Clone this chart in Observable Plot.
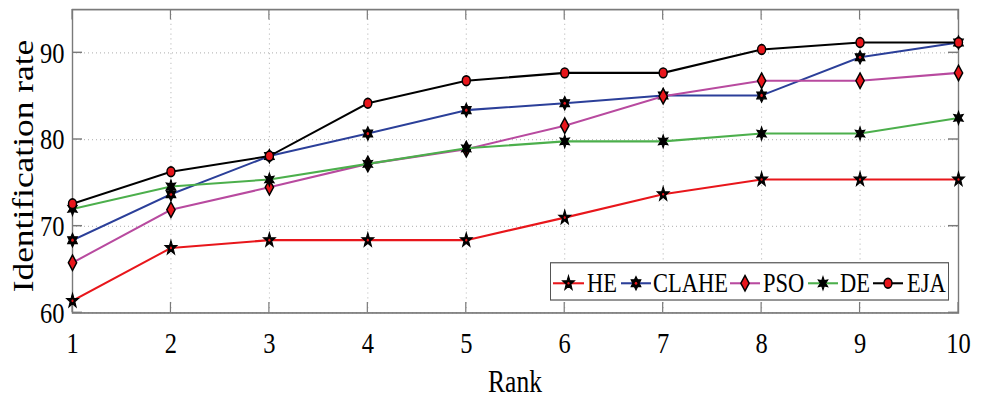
<!DOCTYPE html>
<html><head><meta charset="utf-8">
<script src="https://cdn.jsdelivr.net/npm/d3@7"></script>
<script src="https://cdn.jsdelivr.net/npm/@observablehq/plot@0.6"></script>
<style>html,body{margin:0;padding:0;background:#fff;} #chart svg{display:block}</style>
</head><body><div id="chart"></div>
<script>
// ---- data ----
const ranks = [1, 2, 3, 4, 5, 6, 7, 8, 9, 10];
const heValues    = [61.4, 67.5, 68.4, 68.4, 68.4, 71.0, 73.7, 75.4, 75.4, 75.4];
const claheValues = [68.4, 73.7, 78.1, 80.7, 83.4, 84.2, 85.1, 85.1, 89.5, 91.2];
const psoValues   = [65.8, 71.9, 74.5, 77.2, 78.9, 81.6, 85.0, 86.8, 86.8, 87.7];
const deValues    = [72.0, 74.6, 75.4, 77.2, 79.0, 79.8, 79.8, 80.7, 80.7, 82.5];
const ejaValues   = [72.6, 76.3, 78.1, 84.2, 86.8, 87.7, 87.7, 90.4, 91.2, 91.2];
const seriesNames = ["HE", "CLAHE", "PSO", "DE", "EJA"];
const yTicks = [60, 70, 80, 90];
const xLabel = "Rank";
const yLabel = "Identification rate";

const allValues = [heValues, claheValues, psoValues, deValues, ejaValues];
const table = seriesNames.flatMap((name, k) =>
  allValues[k].map((v, i) => ({rank: ranks[i], value: v, series: name})));

// ---- symbols ----
const sym = (fn) => ({draw(ctx, size) { fn(ctx, Math.sqrt(size / Math.PI)); }});
const star = (n, ratio) => sym((ctx, R) => {
  for (let i = 0; i < 2 * n; i++) {
    const a = -Math.PI / 2 + i * Math.PI / n;
    const rr = i % 2 ? R * ratio : R;
    const x = rr * Math.cos(a), y = rr * Math.sin(a);
    if (i) ctx.lineTo(x, y); else ctx.moveTo(x, y);
  }
  ctx.closePath();
});
const pentagram = star(5, 0.40);
const hexagram = star(6, 0.58);
const asterisk = star(6, 0.48);
const diamond = sym((ctx, r) => {
  const w = r * 0.66, h = r;
  ctx.moveTo(0, -h); ctx.lineTo(w, 0); ctx.lineTo(0, h); ctx.lineTo(-w, 0); ctx.closePath();
});
const circle = sym((ctx, r) => { ctx.moveTo(r, 0); ctx.arc(0, 0, r, 0, 2 * Math.PI); ctx.closePath(); });

const styles = {
  HE:    {color: "#e8161b", symbol: pentagram, r: 6.2, fill: "#000", sw: 1.0, center: 1.1},
  CLAHE: {color: "#2b3f99", symbol: hexagram,  r: 5.6, fill: "#000", sw: 1.0, center: 1.3},
  PSO:   {color: "#b84a9f", symbol: diamond,   r: 6.3, fill: "#e8161b", sw: 1.4, center: 0},
  DE:    {color: "#4caf4c", symbol: asterisk,  r: 5.4, fill: "#000", sw: 1.0, center: 0},
  EJA:   {color: "#000000", symbol: circle,    r: 4.0, fill: "#e8161b", sw: 1.4, center: 0}
};

// ---- layout (drawn in a compressed box, then stretched vertically) ----
const W = 986, H = 325, SCREEN_H = 397;
const FONT = "'Liberation Serif', 'Times New Roman', Times, serif";
const frameColor = "#7a7a7a";

const seriesMarks = seriesNames.flatMap(name => {
  const st = styles[name];
  const rows = table.filter(d => d.series === name);
  const m = [
    Plot.line(rows, {x: "rank", y: "value", stroke: st.color, strokeWidth: 1.7}),
    Plot.dot(rows, {x: "rank", y: "value", symbol: st.symbol, r: st.r, fill: st.fill, stroke: "#000", strokeWidth: st.sw})
  ];
  if (st.center) m.push(Plot.dot(rows, {x: "rank", y: "value", r: st.center, fill: "#e8161b", stroke: "none"}));
  return m;
});

const plot = Plot.plot({
  width: W, height: H,
  marginLeft: 72, marginRight: 28, marginTop: 7.37, marginBottom: 69.3,
  x: {domain: [1, 10]},
  y: {domain: [60, 95]},
  style: {fontFamily: FONT, background: "#fff", color: "#000", overflow: "visible"},
  marks: [
    Plot.gridX(ranks, {stroke: "#bdbdbd", strokeOpacity: 1, strokeDasharray: "1,3", strokeWidth: 1}),
    Plot.gridY(yTicks, {stroke: "#bdbdbd", strokeOpacity: 1, strokeDasharray: "1,3", strokeWidth: 1}),
    Plot.frame({stroke: frameColor, strokeWidth: 1.4}),
    Plot.axisX(ranks, {tickSize: 0, tickPadding: 15, fontSize: 24.5, label: null, tickFormat: d => String(d)}),
    Plot.axisY(yTicks, {tickSize: 0, tickPadding: 8, fontSize: 24.5, label: null, tickFormat: d => String(d)}),
    ...seriesMarks
  ]
});

const svg = d3.select(plot);
const xs = plot.scale("x"), ys = plot.scale("y");
const x0 = 72, x1 = W - 28, yTop = 7.37, yBot = H - 69.3;

// inward ticks on all four sides (MATLAB box)
const tickG = svg.insert("g", "g[aria-label='line']").attr("stroke", frameColor).attr("stroke-width", 1.2);
ranks.forEach(r => {
  const x = xs.apply(r);
  tickG.append("line").attr("x1", x).attr("x2", x).attr("y1", yBot).attr("y2", yBot - 8.5);
  tickG.append("line").attr("x1", x).attr("x2", x).attr("y1", yTop).attr("y2", yTop + 8.5);
});
yTicks.forEach(v => {
  const y = ys.apply(v);
  tickG.append("line").attr("x1", x0).attr("x2", x0 + 10).attr("y1", y).attr("y2", y);
  tickG.append("line").attr("x1", x1).attr("x2", x1 - 10).attr("y1", y).attr("y2", y);
});

// axis titles
svg.append("text").text(xLabel)
  .attr("x", (x0 + x1) / 2).attr("y", 320.6)
  .attr("text-anchor", "middle").attr("font-size", 25.5).attr("font-family", FONT).attr("fill", "#000");
svg.append("text").text(yLabel)
  .attr("transform", `translate(32.5, ${166 / (SCREEN_H / H)}) rotate(-90)`)
  .attr("text-anchor", "middle").attr("font-size", 29).attr("font-family", FONT).attr("fill", "#000");

// legend
const lg = svg.append("g").attr("font-family", FONT).attr("font-size", 22.5).attr("text-anchor", "start");
lg.append("rect").attr("x", 550.5).attr("y", 215.1).attr("width", 398).attr("height", 30.5)
  .attr("fill", "#fff").attr("stroke", "#555").attr("stroke-width", 1);
const legendPos = [
  {l0: 553, l1: 584, t: 587}, {l0: 621, l1: 651, t: 653}, {l0: 730, l1: 760, t: 763},
  {l0: 808, l1: 838, t: 840}, {l0: 873, l1: 903, t: 907}
];
const ly = 231.9;
seriesNames.forEach((name, i) => {
  const st = styles[name], p = legendPos[i];
  lg.append("line").attr("x1", p.l0).attr("x2", p.l1).attr("y1", ly).attr("y2", ly)
    .attr("stroke", st.color).attr("stroke-width", 1.7);
  const size = Math.PI * st.r * st.r;
  lg.append("path").attr("d", d3.symbol(st.symbol, size)())
    .attr("transform", `translate(${(p.l0 + p.l1) / 2},${ly})`)
    .attr("fill", st.fill).attr("stroke", "#000").attr("stroke-width", st.sw);
  if (st.center) lg.append("circle").attr("cx", (p.l0 + p.l1) / 2).attr("cy", ly).attr("r", st.center).attr("fill", "#e8161b");
  lg.append("text").text(name).attr("x", p.t).attr("y", ly + 7.5)
    .attr("text-anchor", "start").attr("font-family", FONT).attr("font-size", 22.5).attr("fill", "#000");
});

// stretch vertically to the reference aspect
plot.setAttribute("viewBox", `0 0 ${W} ${H}`);
plot.setAttribute("preserveAspectRatio", "none");
plot.setAttribute("width", W);
plot.setAttribute("height", SCREEN_H);
plot.style.width = W + "px";
plot.style.height = SCREEN_H + "px";
plot.style.maxWidth = "none";

document.getElementById("chart").appendChild(plot);
</script>
</body></html>
